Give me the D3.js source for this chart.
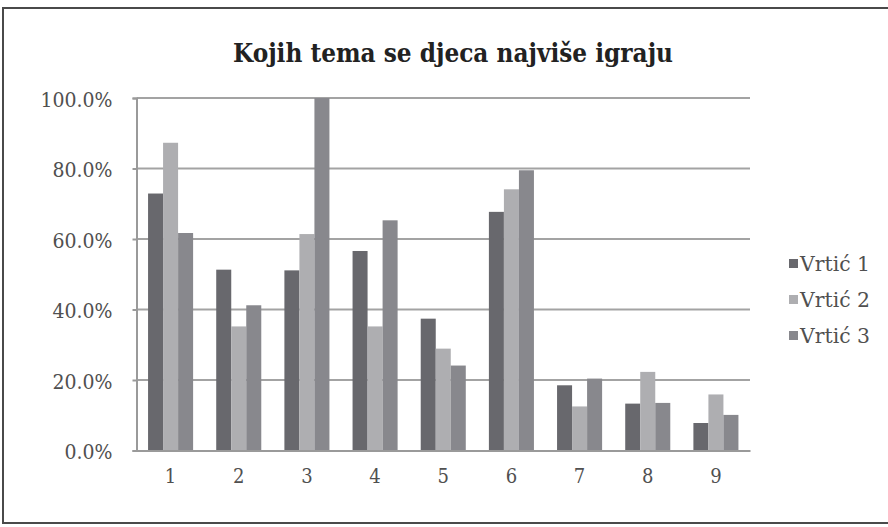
<!DOCTYPE html>
<html>
<head>
<meta charset="utf-8">
<script src="https://cdn.jsdelivr.net/npm/d3@7"></script>
<style>
  html, body { margin: 0; padding: 0; background: #fff; }
  svg { display: block; }
  text { font-family: "DejaVu Serif Condensed", "Liberation Serif", serif; }
</style>
</head>
<body>
<svg id="chart" width="888" height="527"></svg>
<script>
const title = "Kojih tema se djeca najviše igraju";
const categories = ["1", "2", "3", "4", "5", "6", "7", "8", "9"];
const seriesNames = ["Vrtić 1", "Vrtić 2", "Vrtić 3"];
const vrtic1 = [72.9, 51.3, 51.1, 56.6, 37.4, 67.7, 18.5, 13.3, 7.8];
const vrtic2 = [87.3, 35.2, 61.4, 35.2, 28.9, 74.1, 12.5, 22.3, 15.9];
const vrtic3 = [61.7, 41.2, 100.0, 65.3, 24.1, 79.5, 20.4, 13.5, 10.1];
const yTicks = [0, 20, 40, 60, 80, 100];
const colors = ["#68686d", "#aeaeb1", "#88888d"];

const seriesValues = [vrtic1, vrtic2, vrtic3];
const svg = d3.select("#chart");

// outer frame
svg.append("rect").attr("x", 3).attr("y", 8).attr("width", 890).attr("height", 515)
  .attr("fill", "none").attr("stroke", "#4a4a4a").attr("stroke-width", 2);

const pLeft = 136.5, pRight = 750, pTop = 98, pBottom = 450.5;
const x0 = d3.scaleBand().domain(categories).range([pLeft, pRight]).padding(0);
const x1 = d3.scaleBand().domain(seriesNames).range([0, x0.bandwidth()]).paddingInner(0).paddingOuter(0.77);
const y = d3.scaleLinear().domain([0, 100]).range([pBottom, pTop]);

// gridlines
svg.append("g").selectAll("line").data(yTicks.filter(d => d > 0)).join("line")
  .attr("x1", pLeft).attr("x2", pRight)
  .attr("y1", d => y(d)).attr("y2", d => y(d))
  .attr("stroke", "#a3a3a3").attr("stroke-width", 2);

// bars
const groups = svg.append("g").selectAll("g").data(categories).join("g")
  .attr("transform", d => `translate(${x0(d)},0)`);
groups.selectAll("rect").data((c, i) => seriesNames.map((s, k) => ({ s, k, v: seriesValues[k][i] })))
  .join("rect")
  .attr("x", d => x1(d.s))
  .attr("width", x1.bandwidth())
  .attr("y", d => y(d.v))
  .attr("height", d => y(0) - y(d.v))
  .attr("fill", d => colors[d.k]);

// y axis
const yAxis = d3.axisLeft(y).tickValues(yTicks).tickFormat(d => d.toFixed(1) + "%").tickSize(4).tickPadding(20);
const gy = svg.append("g").attr("transform", `translate(${pLeft},0)`).call(yAxis);
gy.select(".domain").attr("stroke", "#9a9a9a").attr("stroke-width", 2);
gy.selectAll(".tick line").attr("stroke", "#9a9a9a").attr("stroke-width", 2);
gy.selectAll(".tick text").attr("font-family", "DejaVu Serif, Liberation Serif, serif")
  .attr("font-size", 21).attr("fill", "#505050").attr("dy", "0.4em");

// x axis
const xAxis = d3.axisBottom(x0).tickSize(0).tickPadding(30);
const gx = svg.append("g").attr("transform", `translate(0,${pBottom})`).call(xAxis);
gx.select(".domain").attr("stroke", "#9a9a9a").attr("stroke-width", 2);
gx.selectAll(".tick text").attr("font-family", "DejaVu Serif, Liberation Serif, serif")
  .attr("font-size", 20).attr("fill", "#505050").attr("dy", "0.1em");

// title
svg.append("text").attr("x", 453).attr("y", 62).attr("text-anchor", "middle")
  .attr("font-size", 26).attr("font-weight", "bold").attr("fill", "#222")
  .attr("textLength", 440).attr("lengthAdjust", "spacingAndGlyphs")
  .text(title);

// legend
const legend = svg.append("g").selectAll("g").data(seriesNames).join("g")
  .attr("transform", (d, i) => `translate(789,${263 + i * 36})`);
legend.append("rect").attr("x", 0).attr("y", -4).attr("width", 9).attr("height", 9)
  .attr("fill", (d, i) => colors[i]);
legend.append("text").attr("x", 11).attr("y", 0).attr("dy", "0.38em")
  .attr("font-family", "DejaVu Serif, Liberation Serif, serif")
  .attr("font-size", 21).attr("fill", "#505050")
  .attr("textLength", 70).attr("lengthAdjust", "spacingAndGlyphs")
  .text(d => d);
</script>
</body>
</html>
